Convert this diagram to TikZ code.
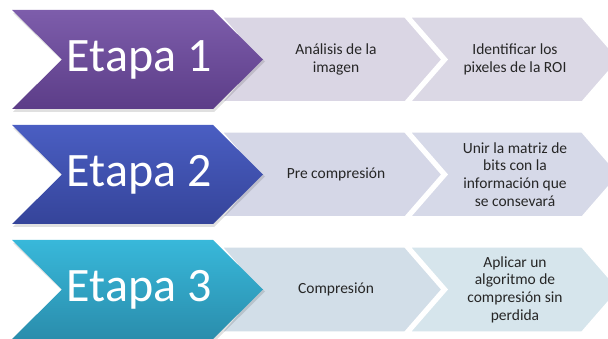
\documentclass[tikz,border=0pt]{standalone}
\usepackage{fontspec}
\setmainfont{Carlito}
\definecolor{pTop}{HTML}{7D5DAB}
\definecolor{pBot}{HTML}{5C3D88}
\definecolor{bTop}{HTML}{4A5EC2}
\definecolor{bBot}{HTML}{35449A}
\definecolor{cTop}{HTML}{38B8DA}
\definecolor{cBot}{HTML}{2A8DAC}
\definecolor{sA}{HTML}{DAD6E4}
\definecolor{sAb}{HTML}{DBD8E5}
\definecolor{sB}{HTML}{D5D7E7}
\definecolor{sBb}{HTML}{D6D9E8}
\definecolor{sC}{HTML}{D2DEE8}
\definecolor{sCb}{HTML}{D6E5EC}
\definecolor{txt}{HTML}{262626}
\tikzset{
  bigtxt/.style={text=white,font=\fontsize{48}{52}\selectfont,inner sep=0pt},
  smalltxt/.style={text=txt,font=\fontsize{15.5}{17.7}\selectfont,align=center,inner sep=0pt},
  smallchev/.style={draw=white,line width=1.5pt,line join=miter},
  shadowchev/.style={fill=black,fill opacity=0.12}
}
\newcommand\rowchev[7]{%
  % #1 top y, #2 top color, #3 bottom color, #4 small fill 1, #5 small fill 2, #6 name, #7 label
  \pgfmathsetmacro\T{#1}\pgfmathsetmacro\B{#1+99}\pgfmathsetmacro\M{#1+49.5}%
  \pgfmathsetmacro\sT{#1+7}\pgfmathsetmacro\sB{#1+92}%
  \path[smallchev,fill=#5] (410,\sT) -- (582,\sT) -- (619,\M) -- (582,\sB) -- (410,\sB) -- (447,\M) -- cycle;
  \path[smallchev,fill=#4] (222,\sT) -- (405,\sT) -- (442,\M) -- (405,\sB) -- (222,\sB) -- (259,\M) -- cycle;
  \path[shadowchev] (13,\T+3) -- (214,\T+3) -- (265,\M+2) -- (214,\B+3) -- (13,\B+3) -- (63,\M+2) -- cycle;
  \shade[top color=#2,bottom color=#3] (12,\T) -- (213,\T) -- (263,\M) -- (213,\B) -- (12,\B) -- (62,\M) -- cycle;
  \node[bigtxt] (#6) at (139,\M) {#7};
}
\begin{document}
\begin{tikzpicture}[x=1pt,y=-1pt]
\useasboundingbox (0,0) rectangle (608,339);
\clip (0,0) rectangle (608,339);
\rowchev{10}{pTop}{pBot}{sA}{sAb}{e1}{Etapa 1}
\node[smalltxt] (a1) at (336,59.5) {Análisis de la\\imagen};
\node[smalltxt] (b1) at (515,59.5) {Identificar los\\pixeles de la ROI};
\rowchev{125}{bTop}{bBot}{sB}{sBb}{e2}{Etapa 2}
\node[smalltxt] (a2) at (336,174.5) {Pre compresión};
\node[smalltxt] (b2) at (515,174.5) {Unir la matriz de\\bits con la\\información que\\se consevará};
\rowchev{240}{cTop}{cBot}{sC}{sCb}{e3}{Etapa 3}
\node[smalltxt] (a3) at (336,289.5) {Compresión};
\node[smalltxt] (b3) at (515,289.5) {Aplicar un\\algoritmo de\\compresión sin\\perdida};
\end{tikzpicture}
\end{document}
